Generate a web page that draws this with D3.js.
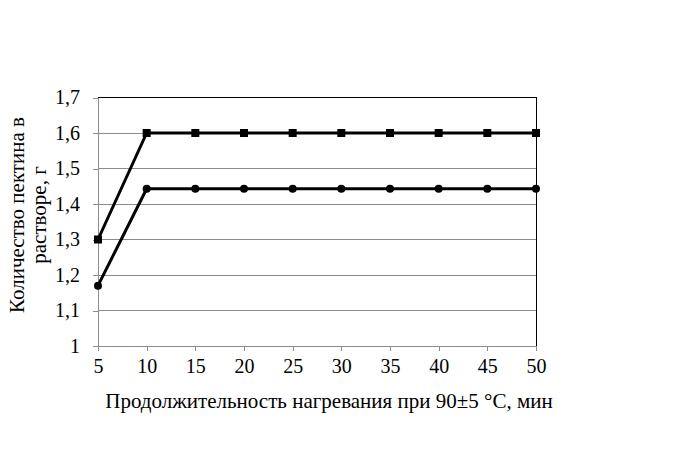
<!DOCTYPE html>
<html><head><meta charset="utf-8">
<script src="https://cdn.jsdelivr.net/npm/d3@7"></script>
<style>body{margin:0;background:#fff}svg{display:block}</style>
</head><body>
<svg id="c" width="693" height="450"></svg>
<script>
const durations = [5,10,15,20,25,30,35,40,45,50];
const seriesSquare = [1.30,1.60,1.60,1.60,1.60,1.60,1.60,1.60,1.60,1.60];
const seriesCircle = [1.17,1.443,1.443,1.443,1.443,1.443,1.443,1.443,1.443,1.443];
const yTicks = [1,1.1,1.2,1.3,1.4,1.5,1.6,1.7];
const xTitle = "Продолжительность нагревания при 90±5 °С, мин";
const yTitle = ["Количество пектина в","растворе, г"];

const FONT = '"Liberation Serif"';
const svg = d3.select("#c");
const L=98, R=536, T=97.5, B=346;
const x = d3.scaleLinear().domain([5,50]).range([L,R]);
const y = d3.scaleLinear().domain([1,1.7]).range([B,T]);

svg.append("g").selectAll("line").data(yTicks.slice(1,-1)).join("line")
  .attr("x1",L).attr("x2",R).attr("y1",d=>y(d)).attr("y2",d=>y(d))
  .attr("stroke","#8c8c8c").attr("stroke-width",1).attr("shape-rendering","crispEdges");
svg.append("path").attr("d",`M${L},${y(1.7)}H${R}V${B}`).attr("fill","none")
  .attr("stroke","#000").attr("stroke-width",1).attr("shape-rendering","crispEdges");

const fmt = d => String(+d.toFixed(1)).replace(".",",");
const yAxis = svg.append("g").attr("transform",`translate(${L},0)`)
  .call(d3.axisLeft(y).tickValues(yTicks).tickFormat(fmt).tickSize(5).tickPadding(13));
const xAxis = svg.append("g").attr("transform",`translate(0,${B})`)
  .call(d3.axisBottom(x).tickValues(durations).tickFormat(d=>d).tickSize(5).tickPadding(8));
[yAxis,xAxis].forEach(a=>{
  a.attr("font-family",null).attr("font-size",null);
  a.selectAll("path,line").attr("stroke","#8c8c8c").attr("shape-rendering","crispEdges");
  a.selectAll("text").style("font-family",FONT).style("font-size","20px").attr("fill","#000");
});
yAxis.select(".domain").attr("d",`M0,${B}V${T}`);
xAxis.select(".domain").attr("d",`M${L},0H${R}`);

const line = d3.line().x((d,i)=>x(durations[i])).y(d=>y(d));
[seriesSquare,seriesCircle].forEach(s=>{
  svg.append("path").datum(s).attr("d",line).attr("fill","none")
    .attr("stroke","#000").attr("stroke-width",3).attr("stroke-linejoin","round");
});
svg.append("g").selectAll("rect").data(seriesSquare).join("rect")
  .attr("x",(d,i)=>x(durations[i])-4).attr("y",d=>y(d)-4).attr("width",8).attr("height",8).attr("fill","#000");
svg.append("g").selectAll("circle").data(seriesCircle).join("circle")
  .attr("cx",(d,i)=>x(durations[i])).attr("cy",d=>y(d)).attr("r",4).attr("fill","#000");

svg.append("text").attr("x",329).attr("y",408).attr("text-anchor","middle")
  .style("font-family",FONT).style("font-size","21px").attr("fill","#000").text(xTitle);
const yt = svg.append("text").attr("transform","translate(0,215) rotate(-90)")
  .attr("text-anchor","middle").style("font-family",FONT).style("font-size","21px").attr("fill","#000");
yTitle.forEach((t,i)=>yt.append("tspan").attr("x",0).attr("y",i?46:24).text(t));
</script>
</body></html>
